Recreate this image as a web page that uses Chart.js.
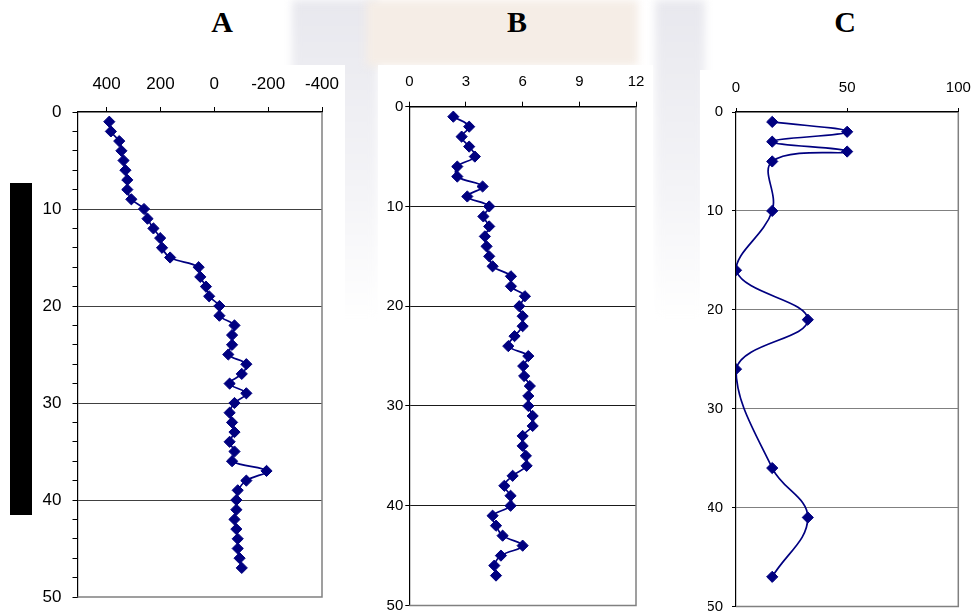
<!DOCTYPE html>
<html lang="es">
<head>
  <meta charset="UTF-8" />
  <title>Perfiles A, B, C</title>
  <script src="https://cdn.jsdelivr.net/npm/chart.js"></script>
  <style>
    body { margin: 0; width: 974px; height: 612px; background: #fff; position: relative; overflow: hidden; }
    .marca { position: absolute; filter: blur(4px); }
    .panel { position: absolute; background: #fff; }
    .titulo { position: absolute; top: 7px; line-height: 30px; font-family: "Liberation Serif", "Times New Roman", serif; font-weight: bold; font-size: 30px; transform: translateX(-50%); }
    .barra { position: absolute; left: 10px; top: 183px; width: 22px; height: 332px; background: #000; }
  </style>
</head>
<body>
  <!-- sello de fondo, muy tenue -->
  <div class="marca" style="left:292px; top:0; width:86px; height:320px; background:linear-gradient(#e8e8ee, #f4f4f7 60%, #fff);"></div>
  <div class="marca" style="left:366px; top:0; width:272px; height:66px; background:#f5ede6;"></div>
  <div class="marca" style="left:655px; top:0; width:50px; height:320px; background:linear-gradient(#e8e8ee, #f4f4f7 60%, #fff);"></div>

  <div class="titulo" style="left:222px;">A</div>
  <div class="titulo" style="left:517px;">B</div>
  <div class="titulo" style="left:845px;">C</div>

  <div class="panel" style="left:0; top:65px; width:345px; height:560px;"><canvas id="grafA"></canvas></div>
  <div class="panel" style="left:378px; top:65px; width:275px; height:560px;"><canvas id="grafB"></canvas></div>
  <div class="panel" style="left:700px; top:70px; width:274px; height:560px;"><canvas id="grafC"></canvas></div>

  <div class="barra"></div>

  <script>
    // profundidades y valores de cada perfil
    const profundidadA = [1, 2, 3, 4, 5, 6, 7, 8, 9, 10, 11, 12, 13, 14, 15, 16, 17, 18, 19, 20, 21, 22, 23, 24,
      25, 26, 27, 28, 29, 30, 31, 32, 33, 34, 35, 36, 37, 38, 39, 40, 41, 42, 43, 44, 45, 46, 47];
    const valoresA = [390, 384, 353, 345, 337, 330, 323, 323, 308, 261, 248, 226, 201, 194, 164, 58, 52, 31, 19, -19,
      -19, -75, -66, -66, -52, -119, -102, -57, -119, -75, -57, -66, -75, -57, -75, -66, -194, -119, -87, -82,
      -82, -75, -82, -87, -87, -94, -102];

    const profundidadB = profundidadA;
    const valoresB = [2.33, 3.17, 2.77, 3.17, 3.47, 2.54, 2.54, 3.88, 3.07, 4.23, 3.92, 4.23, 4.0, 4.09, 4.23, 4.41,
      5.38, 5.38, 6.12, 5.82, 6.0, 6.0, 5.57, 5.24, 6.3, 6.03, 6.08, 6.38, 6.3, 6.3, 6.53, 6.53, 6.0, 6.0, 6.17,
      6.21, 5.47, 5.03, 5.36, 5.36, 4.41, 4.59, 4.94, 6.0, 4.85, 4.5, 4.59];

    const profundidadC = [1, 2, 3, 4, 5, 10, 16, 21, 26, 36, 41, 47];
    const valoresC = [16.3, 50, 16.3, 50, 16.3, 16.3, 0, 32.3, 0, 16.3, 32.3, 16.3];

    const ticksXA = [400, 200, 0, -200, -400];
    const ticksXB = [0, 3, 6, 9, 12];
    const ticksXC = [0, 50, 100];

    Chart.defaults.font.family = '"Liberation Sans", Arial, sans-serif';
    Chart.defaults.color = '#000';

    // borde derecho e inferior gris del area de trazado
    const marco = {
      id: 'marco',
      beforeDatasetsDraw(chart) {
        const a = chart.chartArea, ctx = chart.ctx;
        ctx.save();
        ctx.strokeStyle = '#808080';
        ctx.lineWidth = 1.5;
        ctx.beginPath();
        ctx.moveTo(a.right, a.top);
        ctx.lineTo(a.right, a.bottom);
        ctx.lineTo(a.left, a.bottom);
        ctx.stroke();
        ctx.restore();
      }
    };

    function crearPerfil(id, prof, vals, cfg) {
      const puntos = prof.map((p, i) => ({ x: vals[i], y: p }));
      const fuente = { size: cfg.letra };
      return new Chart(document.getElementById(id), {
        type: 'scatter',
        data: {
          datasets: [{
            data: puntos,
            showLine: true,
            tension: 0.4,
            borderColor: '#000080',
            borderWidth: 1.7,
            backgroundColor: '#000080',
            pointStyle: 'rectRot',
            pointRadius: 5.6,
            pointHoverRadius: 5.6,
            pointBorderWidth: 1,
            pointBorderColor: '#000080'
          }]
        },
        options: {
          responsive: true,
          maintainAspectRatio: false,
          animation: false,
          events: [],
          layout: { padding: cfg.padding },
          plugins: { legend: { display: false }, tooltip: { enabled: false } },
          scales: {
            x: {
              type: 'linear',
              position: 'top',
              min: cfg.xMin,
              max: cfg.xMax,
              reverse: cfg.reverse || false,
              afterBuildTicks: s => { s.ticks = cfg.ticksX.map(v => ({ value: v })); },
              afterFit: s => { s.height = 35; s.paddingLeft = 0; s.paddingRight = 0; },
              border: { color: '#000', width: 1.5 },
              grid: { drawOnChartArea: false, tickColor: '#000', tickLength: cfg.tickX, tickWidth: 1 },
              ticks: { padding: cfg.padX, maxRotation: 0, autoSkip: false, font: fuente }
            },
            y: {
              type: 'linear',
              reverse: true,
              min: 0,
              max: 50,
              afterFit: s => { s.width = cfg.anchoY; s.paddingTop = 0; s.paddingBottom = 0; },
              border: { color: '#000', width: 1.2 },
              grid: {
                color: c => (c.tick.value % 10 === 0 && c.tick.value > 0 && c.tick.value < 50) ? cfg.rejilla : 'transparent',
                tickColor: '#000',
                tickLength: cfg.tickY,
                tickWidth: 1
              },
              ticks: {
                stepSize: cfg.pasoY,
                autoSkip: false,
                padding: cfg.padY,
                font: fuente,
                callback: v => (v % 10 === 0 ? v : '')
              }
            }
          }
        },
        plugins: [marco]
      });
    }

    crearPerfil('grafA', profundidadA, valoresA, {
      xMin: -400, xMax: 508, reverse: true, ticksX: ticksXA, letra: 17,
      padding: { left: 37.5, top: 12, right: 23, bottom: 28 },
      anchoY: 40, pasoY: 2, tickY: 5, padY: 11, tickX: 5, padX: 12.8, rejilla: '#404040'
    });

    crearPerfil('grafB', profundidadB, valoresB, {
      xMin: 0, xMax: 12, ticksX: ticksXB, letra: 15,
      padding: { left: 1.3, top: 6.7, right: 17, bottom: 19.5 },
      anchoY: 30, pasoY: 10, tickY: 4, padY: 2, tickX: 5, padX: 10.7, rejilla: '#1a1a1a'
    });

    crearPerfil('grafC', profundidadC, valoresC, {
      xMin: 0, xMax: 100, ticksX: ticksXC, letra: 15,
      padding: { left: 8, top: 7, right: 15.7, bottom: 23.5 },
      anchoY: 28, pasoY: 10, tickY: 4, padY: 9, tickX: 4, padX: 11, rejilla: '#808080'
    });
  </script>
</body>
</html>
